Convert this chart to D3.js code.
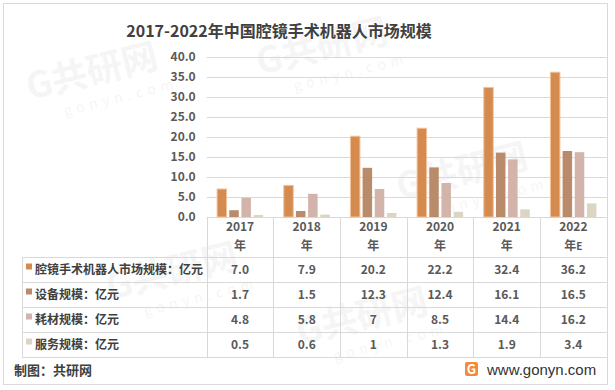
<!DOCTYPE html>
<html>
<head>
<meta charset="utf-8">
<script src="https://cdn.jsdelivr.net/npm/d3@7"></script>
<style>
  body { margin: 0; background: #fff; }
  svg text { font-family: "Noto Sans CJK SC", "Microsoft YaHei", sans-serif; }
</style>
</head>
<body>
<div id="chart"></div>
<script>
// data
const years = ['2017', '2018', '2019', '2020', '2021', '2022'];
const yearSuffix = ['年', '年', '年', '年', '年', '年E'];
const seriesNames = ['腔镜手术机器人市场规模：亿元', '设备规模：亿元', '耗材规模：亿元', '服务规模：亿元'];
const marketSize = [7.0, 7.9, 20.2, 22.2, 32.4, 36.2];
const equipment = [1.7, 1.5, 12.3, 12.4, 16.1, 16.5];
const consumables = [4.8, 5.8, 7, 8.5, 14.4, 16.2];
const services = [0.5, 0.6, 1, 1.3, 1.9, 3.4];
const tableText = [
  ['7.0', '7.9', '20.2', '22.2', '32.4', '36.2'],
  ['1.7', '1.5', '12.3', '12.4', '16.1', '16.5'],
  ['4.8', '5.8', '7', '8.5', '14.4', '16.2'],
  ['0.5', '0.6', '1', '1.3', '1.9', '3.4']
];
const yTicks = [0, 5, 10, 15, 20, 25, 30, 35, 40];

const seriesValues = [marketSize, equipment, consumables, services];
const colors = ['#D58B4F', '#BA8B6B', '#D3B4AA', '#DDD5C4'];

const width = 615, height = 390;
const plot = { left: 206.7, right: 606.7, top: 57, bottom: 217 };
const rowH = 25;
const tableTop = 257;
const tableLeft = 22;
const grid = '#d9d9d9';
const textColor = '#404040';

const svg = d3.select('#chart').append('svg')
  .attr('width', width)
  .attr('height', height);

svg.append('rect')
  .attr('x', 3.5).attr('y', 3.5)
  .attr('width', 604).attr('height', 381)
  .attr('fill', '#fff')
  .attr('stroke', grid);

// faint watermarks, kept inside the frame
const marks = [[30, 100], [260, 75], [400, 200], [110, 300], [300, 345]];
marks.forEach(([x, y]) => {
  const g = svg.append('g')
    .attr('transform', `translate(${x},${y}) rotate(-14)`)
    .attr('opacity', 0.035);
  g.append('text').attr('font-size', 36).attr('font-weight', 'bold')
    .attr('fill', '#000').text('G共研网');
  g.append('text').attr('x', 30).attr('y', 24).attr('font-size', 14)
    .attr('letter-spacing', 5).attr('fill', '#000').text('gonyn.com');
});

// title
svg.append('text')
  .attr('x', 279).attr('y', 37)
  .attr('text-anchor', 'middle')
  .attr('font-size', 16).attr('font-weight', 'bold')
  .attr('fill', textColor)
  .text('2017-2022年中国腔镜手术机器人市场规模');

const x0 = d3.scaleBand()
  .domain(years)
  .range([plot.left, plot.right])
  .padding(0);

const x1 = d3.scaleBand()
  .domain(d3.range(seriesNames.length))
  .range([10.4, 56.4])
  .paddingInner(0.22);

const y = d3.scaleLinear()
  .domain([0, 40])
  .range([plot.bottom, plot.top]);

// gridlines
svg.append('g')
  .selectAll('line')
  .data(yTicks)
  .join('line')
  .attr('x1', plot.left).attr('x2', plot.right)
  .attr('y1', d => Math.round(y(d)) + 0.5)
  .attr('y2', d => Math.round(y(d)) + 0.5)
  .attr('stroke', grid);

// y axis
const yAxis = svg.append('g')
  .attr('transform', `translate(${plot.left - 11},0)`)
  .call(d3.axisLeft(y).tickValues(yTicks).tickFormat(d3.format('.1f')).tickSize(0).tickPadding(0));
yAxis.select('.domain').remove();
yAxis.selectAll('text')
  .attr('font-size', 12).attr('font-weight', 'bold')
  .attr('fill', '#595959');

// bars
const groups = svg.append('g')
  .selectAll('g')
  .data(years)
  .join('g')
  .attr('transform', d => `translate(${x0(d)},0)`);

groups.selectAll('rect')
  .data((d, i) => seriesValues.map((vals, s) => ({ s, v: vals[i] })))
  .join('rect')
  .attr('x', d => x1(d.s))
  .attr('y', d => y(d.v))
  .attr('width', x1.bandwidth())
  .attr('height', d => y(0) - y(d.v))
  .attr('fill', d => colors[d.s])
  .attr('stroke', d => d.s === 0 ? '#F2C29A' : 'none')
  .attr('stroke-width', 1);

// data table
const table = svg.append('g');
const nRows = seriesNames.length;
const tableBottom = tableTop + nRows * rowH;

// horizontal lines
table.selectAll('line.h')
  .data(d3.range(nRows + 1))
  .join('line')
  .attr('class', 'h')
  .attr('x1', tableLeft).attr('x2', plot.right)
  .attr('y1', d => tableTop + d * rowH + 0.5)
  .attr('y2', d => tableTop + d * rowH + 0.5)
  .attr('stroke', grid);

// vertical lines
const vx = years.map(d => x0(d)).concat([plot.right]);
table.selectAll('line.v')
  .data(vx)
  .join('line')
  .attr('class', 'v')
  .attr('x1', d => Math.round(d) + 0.5).attr('x2', d => Math.round(d) + 0.5)
  .attr('y1', plot.bottom).attr('y2', tableBottom)
  .attr('stroke', grid);
table.append('line')
  .attr('x1', tableLeft + 0.5).attr('x2', tableLeft + 0.5)
  .attr('y1', tableTop).attr('y2', tableBottom)
  .attr('stroke', grid);

// header
const header = table.selectAll('g.hd')
  .data(years)
  .join('g')
  .attr('class', 'hd')
  .attr('transform', d => `translate(${x0(d) + x0.bandwidth() / 2},0)`);
header.append('text')
  .attr('y', 231).attr('text-anchor', 'middle')
  .attr('font-size', 12).attr('font-weight', 'bold').attr('fill', '#595959')
  .text(d => d);
header.append('text')
  .attr('y', 250).attr('text-anchor', 'middle')
  .attr('font-size', 12).attr('font-weight', 'bold').attr('fill', '#595959')
  .each(function(d, i) {
    const t = d3.select(this);
    t.append('tspan').text('年');
    if (yearSuffix[i].length > 1) {
      t.append('tspan').attr('font-size', 10).text(yearSuffix[i].slice(1));
    }
  });

// rows
seriesNames.forEach((name, r) => {
  const cy = tableTop + r * rowH + rowH / 2;
  table.append('rect')
    .attr('x', 26).attr('y', cy - 6)
    .attr('width', 6).attr('height', 6)
    .attr('fill', colors[r]);
  table.append('text')
    .attr('x', 35).attr('y', cy + 4.5)
    .attr('font-size', 12).attr('font-weight', 'bold')
    .attr('fill', textColor)
    .text(name);
  table.selectAll(null)
    .data(tableText[r])
    .join('text')
    .attr('x', (d, i) => x0(years[i]) + x0.bandwidth() / 2)
    .attr('y', cy + 4.5)
    .attr('text-anchor', 'middle')
    .attr('font-size', 12).attr('font-weight', 'bold')
    .attr('fill', '#595959')
    .text(d => d);
});

// source
svg.append('text')
  .attr('x', 14).attr('y', 375)
  .attr('font-size', 13).attr('font-weight', 'bold')
  .attr('fill', textColor)
  .text('制图：共研网');

// logo
const logo = svg.append('g').attr('transform', 'translate(465,362)');
logo.append('rect')
  .attr('width', 13).attr('height', 14).attr('rx', 2)
  .attr('fill', '#F28A3A');
logo.append('text')
  .attr('x', 6.5).attr('y', 12)
  .attr('text-anchor', 'middle')
  .attr('font-size', 13).attr('font-weight', 'bold')
  .attr('fill', '#fff')
  .text('G');
svg.append('text')
  .attr('x', 487).attr('y', 375)
  .attr('font-size', 15)
  .attr('fill', '#333')
  .style('font-family', 'Arial, "Liberation Sans", sans-serif')
  .text('www.gonyn.com');
</script>
</body>
</html>
